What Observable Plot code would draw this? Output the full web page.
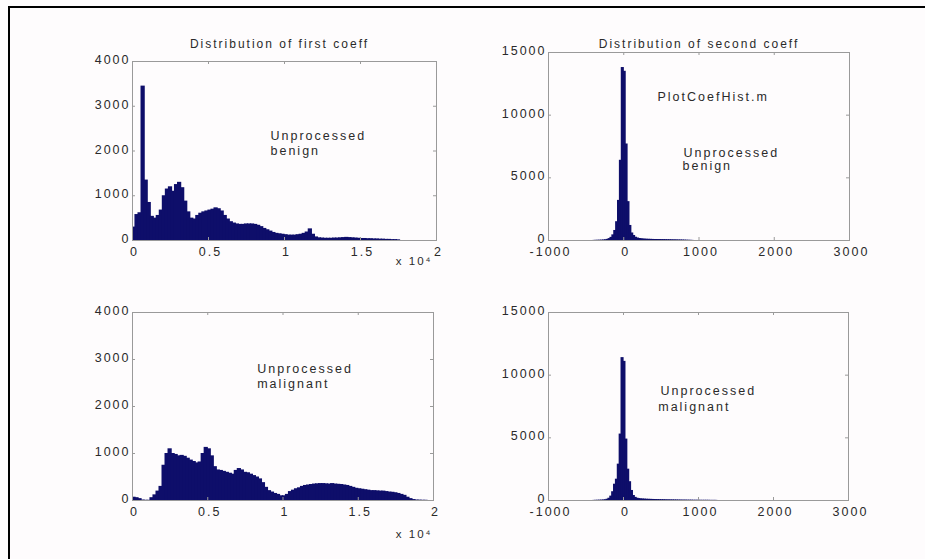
<!DOCTYPE html>
<html><head><meta charset="utf-8">
<script src="https://cdn.jsdelivr.net/npm/d3@7"></script>
<script src="https://cdn.jsdelivr.net/npm/@observablehq/plot@0.6"></script>
<style>
html,body{margin:0;padding:0;background:#fefcfd;}
#fig{position:relative;width:925px;height:559px;overflow:hidden;background:#fefcfd;}
#fig .border{position:absolute;left:8px;top:6px;right:0;bottom:0;border-top:2px solid #000;border-left:2px solid #000;}
#fig svg{position:absolute;overflow:visible;background:transparent !important;font-family:"Liberation Sans",Arial,sans-serif;}
#fig svg text{letter-spacing:2px;}
</style></head><body><div id="fig"><div class="border"></div></div>
<script>
// ---- data ----
const firstBinStart = 0, firstBinWidth = 200;      // first coefficient, raw units
const benignFirst = [300, 580, 620, 3450, 1350, 850, 540, 500, 560, 680,
  1000, 1150, 1200, 1100, 1250, 1300, 1180, 880, 640, 500,
  480, 560, 610, 640, 660, 680, 700, 730, 710, 660,
  560, 480, 420, 390, 370, 360, 360, 370, 370, 370,
  360, 340, 310, 270, 240, 210, 180, 160, 150, 140,
  130, 120, 120, 120, 130, 140, 160, 190, 260, 140,
  80, 60, 55, 50, 50, 50, 55, 55, 60, 65,
  70, 65, 60, 55, 50, 45, 45, 40, 40, 35,
  35, 30, 30, 25, 25, 20, 20, 15];
const malignantFirst = [70, 60, 40, 10, 5, 5, 60, 120, 200, 300,
  750, 1000, 1100, 1000, 980, 950, 960, 940, 900, 860,
  830, 800, 820, 1000, 1130, 1100, 950, 720, 650, 640,
  620, 600, 580, 560, 640, 680, 650, 600, 590, 560,
  530, 500, 460, 380, 280, 210, 180, 150, 130, 100,
  100, 130, 190, 220, 250, 270, 300, 320, 330, 340,
  350, 355, 360, 360, 355, 350, 360, 350, 345, 340,
  330, 320, 300, 280, 260, 250, 240, 230, 220, 210,
  210, 205, 200, 200, 190, 180, 175, 165, 150, 130,
  110, 70, 40, 20, 10, 8, 5, 5];
const secondBinStart = -400, secondBinWidth = 25;  // second coefficient
const benignSecond = [10, 15, 20, 25, 30, 40, 60, 90, 150, 250,
  450, 800, 1500, 3200, 6400, 13800, 13500, 7700, 3100, 1200,
  600, 400, 260, 200, 160, 140, 120, 110, 100, 95,
  90, 85, 80, 80, 75, 75, 70, 70, 65, 60,
  60, 55, 50, 50, 45, 40, 40, 35, 30, 25,
  20, 15, 10];
const malignantSecond = [10, 15, 20, 25, 30, 40, 60, 100, 180, 350,
  700, 1300, 1700, 2900, 5300, 11400, 11100, 4900, 2500, 1500,
  800, 400, 250, 180, 150, 130, 120, 110, 100, 95,
  90, 85, 80, 75, 70, 65, 60, 60, 55, 50,
  50, 45, 45, 40, 40, 35, 35, 30, 30, 30,
  25, 25, 25, 20, 20, 20, 20, 15, 15, 15,
  15, 15, 10, 10, 10, 10];
const firstXTicks = [0, 5000, 10000, 15000, 20000];
const firstYTicks = [0, 1000, 2000, 3000, 4000];
const secondXTicks = [-1000, 0, 1000, 2000, 3000];
const secondYTicks = [0, 5000, 10000, 15000];
const panelTitles = ["Distribution of first coeff", "Distribution of second coeff", "", ""];
const exponentLabel = "x 10\u2074";
const notesTL = [{x: 9080, y: 2346, text: "Unprocessed"}, {x: 9080, y: 2011, text: "benign"}];
const notesTR = [{x: 448, y: 11410, text: "PlotCoefHist.m"}, {x: 794, y: 7021, text: "Unprocessed"}, {x: 781, y: 5984, text: "benign"}];
const notesBL = [{x: 8286, y: 2802, text: "Unprocessed"}, {x: 8286, y: 2483, text: "malignant"}];
const notesBR = [{x: 493, y: 8697, text: "Unprocessed"}, {x: 463, y: 7444, text: "malignant"}];

// ---- styling / layout ----
const NAVY = "#0e0e6a", FRAME = "#9a9a9a", INK = "#2a2a2a";
const fig = document.getElementById("fig");

function bins(counts, start, width) {
  return counts.map((c, i) => ({x1: start + i * width, x2: start + (i + 1) * width, count: c}));
}

function panel(o) {
  const [fx0, fy0, fx1, fy1] = o.frame;
  const mL = 100, mT = 60, mR = 60, mB = 50;
  const fw = fx1 - fx0, fh = fy1 - fy0;
  const marks = [
    Plot.rect(bins(o.counts, o.start, o.width), {x1: "x1", x2: "x2", y1: 0, y2: "count", fill: NAVY, insetLeft: -0.6, insetRight: -0.6, clip: true}),
    Plot.frame({stroke: FRAME}),
    Plot.tickX(o.xTicks, {stroke: FRAME, insetTop: fh - 3}),
    Plot.tickX(o.xTicks, {stroke: FRAME, insetBottom: fh - 3}),
    Plot.tickY(o.yTicks, {stroke: FRAME, insetRight: fw - 3}),
    Plot.tickY(o.yTicks, {stroke: FRAME, insetLeft: fw - 3}),
    Plot.axisX({ticks: o.xTicks, tickSize: 0, tickPadding: 7, dx: 2, tickFormat: o.xFormat, fontSize: 12.5, fill: INK, label: null}),
    Plot.axisY({ticks: o.yTicks, tickSize: 0, tickPadding: 2, dy: -1.5, tickFormat: d => String(d), fontSize: 12.5, fill: INK, label: null}),
    Plot.text(o.notes, {x: "x", y: "y", text: "text", textAnchor: "start", fontSize: 12.5, fill: INK})
  ];
  if (o.title) marks.push(Plot.text([o.title], {frameAnchor: "top", dy: o.titleDy, dx: o.titleDx, fontSize: 12, fill: INK}));
  if (o.exponent) marks.push(Plot.text([exponentLabel], {frameAnchor: "bottom-right", textAnchor: "end", dy: o.expDy, dx: o.expDx, fontSize: 11.5, fill: INK}));
  const svg = Plot.plot({
    width: fw + mL + mR, height: fh + mT + mB,
    marginLeft: mL, marginRight: mR, marginTop: mT, marginBottom: mB,
    x: {domain: o.xDomain, label: null},
    y: {domain: o.yDomain, label: null},
    marks
  });
  svg.style.left = (fx0 - mL) + "px";
  svg.style.top = (fy0 - mT) + "px";
  svg.style.maxWidth = "none";
  fig.appendChild(svg);
}

const fmt1 = d => String(d / 10000);
const fmt2 = d => String(d);

panel({frame: [132, 61, 436, 240], counts: benignFirst, start: firstBinStart, width: firstBinWidth,
  xDomain: [0, 20000], yDomain: [0, 4000], xTicks: firstXTicks, yTicks: firstYTicks, xFormat: fmt1,
  title: panelTitles[0], titleDy: -22, titleDx: -5, notes: notesTL, exponent: true, expDy: 24, expDx: -4});
panel({frame: [548, 52, 849, 240], counts: benignSecond, start: secondBinStart, width: secondBinWidth,
  xDomain: [-1000, 3000], yDomain: [0, 15000], xTicks: secondXTicks, yTicks: secondYTicks, xFormat: fmt2,
  title: panelTitles[1], titleDy: -13, titleDx: 0, notes: notesTR, exponent: false});
panel({frame: [132, 312, 433, 500], counts: malignantFirst, start: firstBinStart, width: firstBinWidth,
  xDomain: [0, 20000], yDomain: [0, 4000], xTicks: firstXTicks, yTicks: firstYTicks, xFormat: fmt1,
  title: panelTitles[2], notes: notesBL, exponent: true, expDy: 37, expDx: -1});
panel({frame: [548, 312, 848, 500], counts: malignantSecond, start: secondBinStart, width: secondBinWidth,
  xDomain: [-1000, 3000], yDomain: [0, 15000], xTicks: secondXTicks, yTicks: secondYTicks, xFormat: fmt2,
  title: panelTitles[3], notes: notesBR, exponent: false});
</script></body></html>
